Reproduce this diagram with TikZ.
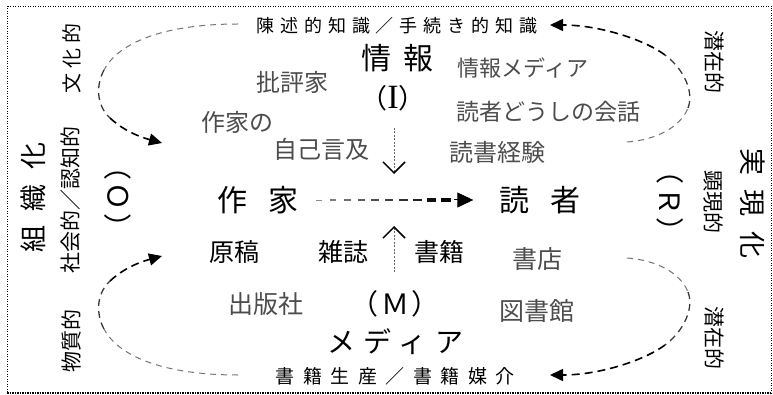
\documentclass[tikz,border=0pt]{standalone}
\usepackage{fontspec}
\usepackage{tikz}
\usetikzlibrary{calc,arrows.meta}
\newfontfamily\jp{Noto Sans CJK JP}
\newfontfamily\lat{Liberation Serif}
\def\jtext#1#2{{\jp\fontsize{#1}{#1}\selectfont #2}}
\def\sptext#1#2#3{{\jp\fontsize{#1}{#1}\selectfont\addfontfeature{LetterSpace=#2}#3\kern-\dimexpr#1pt*#2/100\relax}}
\tikzset{
	txt/.style={inner sep=0pt, color=black},
	soft/.style={inner sep=0pt, color=black!70},
	frame/.style={line width=0.7pt, dash pattern=on 1pt off 1.5pt},
	curvelight/.style={line width=1pt, color=black!55, dash pattern=on 6pt off 5pt},
	curvemid/.style={line width=1.3pt, color=black!78, dash pattern=on 7pt off 5pt},
	curvedark/.style={line width=1.6pt, color=black, dash pattern=on 8pt off 5pt},
	headtip/.style={-{Triangle[length=13pt,width=12pt]}},
	vline/.style={line width=0.6pt, color=black!60, dash pattern=on 2pt off 1.5pt,
		-{Straight Barb[length=11pt,width=22pt,line width=1.5pt,color=black]}}
}

\begin{document}
\begin{tikzpicture}[x=1pt,y=-1pt]
			%%%%% START %%%%%
			\useasboundingbox (0,0) rectangle (773,395);
			
			\draw[frame] (7,6) rectangle (771,393);
			\draw[frame, line width=1.5pt, dash pattern=on 1.5pt off 1pt] (7,393) -- (771,393);
			
			% top: information
			\node[txt] (chishiki) at (394,26) {\sptext{18}{33}{陳述的知識／手続き的知識}};
			\node[txt] (jouhou) at (391,58) {\sptext{30}{40}{情報}};
			\node[txt] (info) at (392,98) {\sptext{27}{8}{（{\lat\fontsize{34}{34}\selectfont I}）}};
			\node[soft] (hihyouka) at (292,82) {\jtext{24}{批評家}};
			\node[soft] (sakkano) at (237,122) {\jtext{24}{作家の}};
			\node[soft] (genkyuu) at (321,149) {\jtext{24}{自己言及}};
			\node[soft] (jmedia) at (523,68) {\jtext{22}{情報メディア}};
			\node[soft] (kaiwa) at (548,112) {\jtext{23}{読者どうしの会話}};
			\node[soft] (keiken) at (497,152) {\jtext{24}{読書経験}};
			
			% middle row
			\node[txt] (sakka) at (247,200) {\sptext{30}{72}{作家}};
			\node[txt] (dokusha) at (529,200) {\sptext{30}{72}{読者}};
			
			% bottom: media
			\node[txt] (genkou) at (234,252) {\jtext{25}{原稿}};
			\node[txt] (zasshi) at (343,252) {\jtext{25}{雑誌}};
			\node[txt] (shoseki) at (439,252) {\jtext{25}{書籍}};
			\node[soft] (shoten) at (537,259) {\jtext{25}{書店}};
			\node[soft] (shuppan) at (266,304) {\jtext{25}{出版社}};
			\node[txt] (medium) at (394,304) {\sptext{28}{8}{（Ｍ）}};
			\node[soft] (tosho) at (537,311) {\jtext{25}{図書館}};
			\node[txt] (mediatxt) at (391,342) {\sptext{28}{32}{メディア}};
			\node[txt] (seisan) at (391,376) {\sptext{19}{45}{書籍生産／書籍媒介}};
			
			% left side
			\node[txt, rotate=90] (soshiki) at (33,205) {\sptext{27}{55}{組織化}};
			\node[txt, rotate=90] (shakai) at (71,200) {\jtext{21}{社会的／認知的}};
			\node[txt, rotate=90] (bunka) at (72,61) {\sptext{20}{25}{文化的}};
			\node[txt, rotate=90] (busshitsu) at (72,341) {\jtext{21}{物質的}};
			\node[txt, rotate=90] (orgs) at (118,198) {\sptext{28}{8}{（Ｏ）}};
			
			% right side
			\node[txt, rotate=-90] (jitsugen) at (753,196) {\sptext{27}{55}{実現化}};
			\node[txt, rotate=-90] (kengen) at (713,202) {\jtext{21}{顕現的}};
			\node[txt, rotate=-90] (senzaiA) at (715,62) {\jtext{21}{潜在的}};
			\node[txt, rotate=-90] (senzaiB) at (715,338) {\jtext{21}{潜在的}};
			\node[txt, rotate=-90] (real) at (670,200) {\sptext{28}{8}{（Ｒ）}};
			
			% writer to reader
			\foreach \i in {0,...,9}{
				\pgfmathsetmacro\pa{0.175+0.0625*\i}
				\pgfmathsetmacro\pb{\pa+0.027+0.002*\i}
				\pgfmathsetmacro\lw{0.9+0.27*\i}
				\pgfmathsetmacro\tone{45+6*\i}
				\draw[line width=\lw pt, color=black!\tone] ($(sakka.east)!\pa!(dokusha.west)$) -- ($(sakka.east)!\pb!(dokusha.west)$);
			}
			\draw[line width=1pt, -{Triangle[length=16pt,width=15pt]}] ($(sakka.east)!0.80!(dokusha.west)$) -- ($(sakka.east)!0.885!(dokusha.west)$);
			
			% down and up arrows
			\coordinate (itop) at (394,128);
			\coordinate (ibot) at (394,174);
			\coordinate (mbot) at (394,272);
			\coordinate (mtop) at (394,226);
			\draw[vline] (itop) -- (ibot);
			\draw[vline] (mbot) -- (mtop);
			
			% top left loop
			\draw[curvelight] (238,24) .. controls (170,24) and (120,40) .. (104,70);
			\draw[curvemid] (104,70) .. controls (96,85) and (96,105) .. (110,118);
			\draw[curvedark, headtip] (110,118) .. controls (124,131) and (140,137) .. (162,143);
			
			% bottom left loop
			\draw[curvelight] (238,375) .. controls (170,375) and (120,359) .. (104,329);
			\draw[curvemid] (104,329) .. controls (96,314) and (96,294) .. (110,281);
			\draw[curvedark, headtip] (110,281) .. controls (124,268) and (140,262) .. (162,256);
			
			% top right loop
			\draw[curvelight] (627,142) .. controls (655,140) and (680,128) .. (688,108);
			\draw[curvemid] (688,108) .. controls (694,93) and (685,70) .. (665,55);
			\draw[curvedark, headtip] (665,55) .. controls (645,40) and (600,25) .. (550,25);
			
			% bottom right loop
			\draw[curvelight] (627,258) .. controls (655,260) and (680,272) .. (688,292);
			\draw[curvemid] (688,292) .. controls (694,307) and (685,330) .. (665,345);
			\draw[curvedark, headtip] (665,345) .. controls (645,360) and (600,375) .. (550,375);
			%%%%% END %%%%%
\end{tikzpicture}
\end{document}
